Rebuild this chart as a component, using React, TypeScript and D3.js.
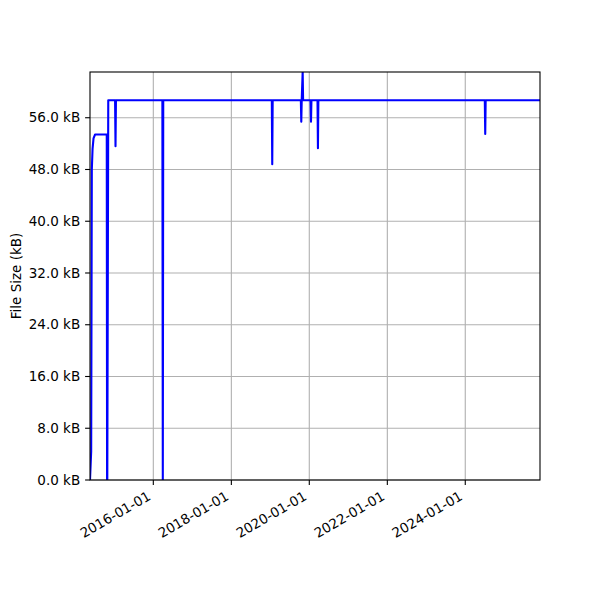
import React from "react";
import * as d3 from "d3";

const dates: string[] = [
  "2014-05-18", "2014-05-29", "2014-06-04", "2014-06-11", "2014-06-20", "2014-07-04",
  "2014-10-22", "2014-10-25", "2014-10-27", "2014-11-05",
  "2015-01-08", "2015-01-12", "2015-01-16",
  "2016-03-26", "2016-03-30", "2016-04-03",
  "2019-01-15", "2019-01-19", "2019-01-23",
  "2019-10-14", "2019-10-18", "2019-10-22", "2019-10-31", "2019-11-04",
  "2020-01-13", "2020-01-17", "2020-01-21",
  "2020-03-18", "2020-03-22", "2020-03-26",
  "2024-07-02", "2024-07-06", "2024-07-10",
  "2025-12-01",
];
const sizesKB: number[] = [
  0, 4.4, 48.0, 51.2, 52.8, 53.4,
  53.4, 0, 0, 58.7,
  58.7, 51.6, 58.7,
  58.7, 0, 58.7,
  58.7, 48.8, 58.7,
  58.7, 55.4, 58.7, 63.07, 58.7,
  58.7, 55.4, 58.7,
  58.7, 51.3, 58.7,
  58.7, 53.5, 58.7,
  58.7,
];
const yTicks: number[] = [0, 8, 16, 24, 32, 40, 48, 56];
const xTickLabels: string[] = ["2016-01-01", "2018-01-01", "2020-01-01", "2022-01-01", "2024-01-01"];

const W = 600, H = 600;
const M = { left: 90, right: 540, top: 72, bottom: 480 };
const FONT = "DejaVu Sans, sans-serif";
const FS = 13.5;

export default function App() {
  const parse = d3.utcParse("%Y-%m-%d");
  const pts = dates.map((d, i) => ({ t: parse(d)!, v: sizesKB[i] }));
  const x = d3.scaleUtc()
    .domain(d3.extent(pts, (p) => p.t) as [Date, Date])
    .range([M.left, M.right]);
  const y = d3.scaleLinear()
    .domain([0, d3.max(sizesKB)!])
    .range([M.bottom, M.top]);
  const line = d3.line<{ t: Date; v: number }>()
    .x((p) => x(p.t))
    .y((p) => y(p.v));
  const xt = xTickLabels.map((s) => ({ s, x: x(parse(s)!) }));
  const tickLen = 4.9;
  const pad = 4.9;
  return (
    <svg width={W} height={H} style={{ position: "absolute", left: 0, top: 0, background: "#fff" }}>
      <defs>
        <clipPath id="plotclip">
          <rect x={M.left} y={M.top} width={M.right - M.left} height={M.bottom - M.top} />
        </clipPath>
      </defs>
      <rect x={0} y={0} width={W} height={H} fill="#fff" />
      {/* grid */}
      {yTicks.map((t) => (
        <line key={"gy" + t} x1={M.left} x2={M.right} y1={y(t)} y2={y(t)} stroke="#b0b0b0" strokeWidth={1.1} />
      ))}
      {xt.map((t) => (
        <line key={"gx" + t.s} x1={t.x} x2={t.x} y1={M.top} y2={M.bottom} stroke="#b0b0b0" strokeWidth={1.1} />
      ))}
      {/* data line */}
      <path d={line(pts)!} fill="none" stroke="#0000ff" strokeWidth={2.1} strokeLinejoin="round" clipPath="url(#plotclip)" />
      {/* spines */}
      <rect x={M.left} y={M.top} width={M.right - M.left} height={M.bottom - M.top} fill="none" stroke="#000" strokeWidth={1.1} />
      {/* y ticks */}
      {yTicks.map((t) => (
        <g key={"yt" + t}>
          <line x1={M.left - tickLen} x2={M.left} y1={y(t)} y2={y(t)} stroke="#000" strokeWidth={1.1} />
          <text x={M.left - tickLen - pad} y={y(t)} dy="0.35em" textAnchor="end" fontFamily={FONT} fontSize={FS} fill="#000">
            {t.toFixed(1) + " kB"}
          </text>
        </g>
      ))}
      {/* x ticks */}
      {xt.map((t) => (
        <g key={"xt" + t.s}>
          <line x1={t.x} x2={t.x} y1={M.bottom} y2={M.bottom + tickLen} stroke="#000" strokeWidth={1.1} />
          <text
            transform={`translate(${t.x - 1.7},${M.bottom + tickLen + pad + 9.2}) rotate(-30)`}
            textAnchor="end"
            fontFamily={FONT}
            fontSize={FS}
            fill="#000"
          >
            {t.s}
          </text>
        </g>
      ))}
      {/* y label */}
      <text
        transform={`translate(21,${(M.top + M.bottom) / 2}) rotate(-90)`}
        textAnchor="middle"
        fontFamily={FONT}
        fontSize={FS}
        fill="#000"
      >
        File Size (kB)
      </text>
    </svg>
  );
}
